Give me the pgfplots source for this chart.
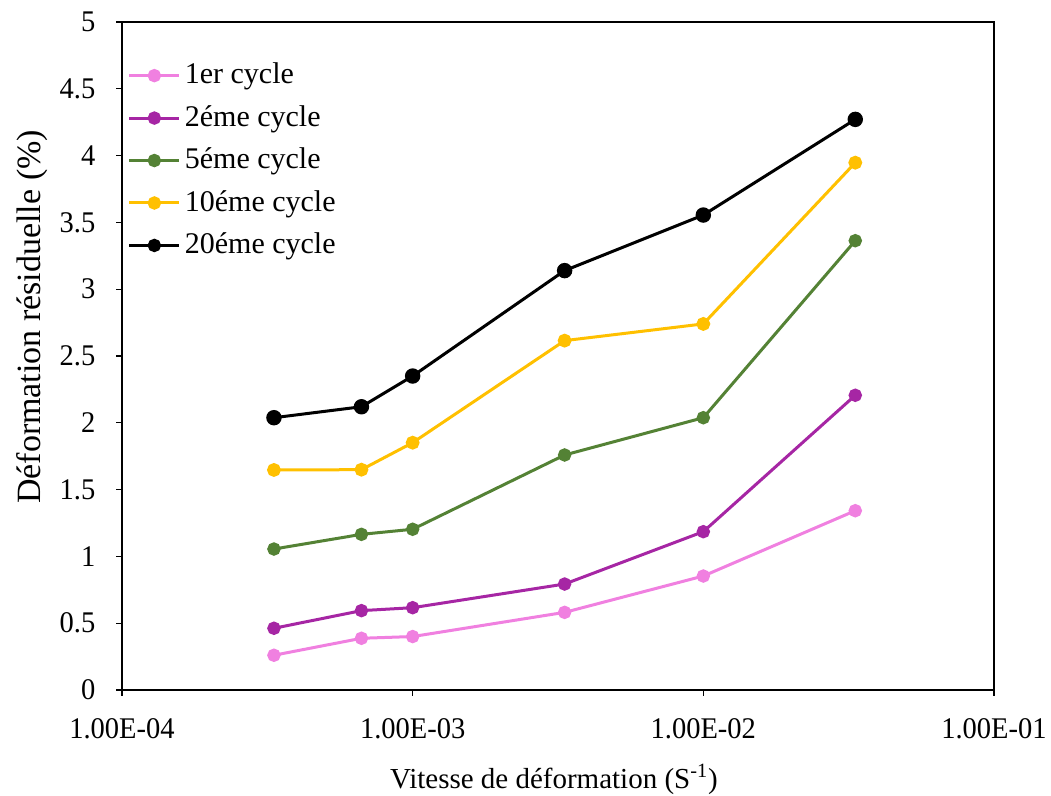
\documentclass[border=0pt]{standalone}
\usepackage{fontspec}
\setmainfont{Liberation Serif}
\usepackage{pgfplots}
\pgfplotsset{compat=1.18}
\definecolor{cpink}{RGB}{240,128,224}
\definecolor{cpurple}{RGB}{166,38,164}
\definecolor{cgreen}{RGB}{84,130,53}
\definecolor{cyellow}{RGB}{255,192,0}
\begin{document}
\fontsize{14}{17}\selectfont
\begin{tikzpicture}
\path[use as bounding box] (-61pt,-53pt) rectangle (464.5pt,345pt);
\begin{axis}[
  at={(0,0)}, anchor=south west,
  scale only axis,
  width=436pt, height=334pt,
  xmode=log,
  xmin=1e-4, xmax=1e-1,
  ymin=0, ymax=5,
  ytick={0,0.5,...,5},
  xtick={1e-4,1e-3,1e-2,1e-1},
  xticklabels={1.00E-04,1.00E-03,1.00E-02,1.00E-01},
  xminorticks=false,
  log ticks with fixed point=false,
  tick align=outside,
  xtick pos=bottom, ytick pos=left,
  major tick length=3pt,
  axis line style={line width=0.9pt},
  tick style={black, line width=0.6pt},
  /pgf/number format/assume math mode=true,
  ticklabel style={font=\fontsize{15}{18}\selectfont, xscale=0.95},
  xticklabel style={yshift=-6.5pt},
  yticklabel style={xshift=-6pt},
  xlabel={Vitesse de déformation (S\textsuperscript{-1})},
  ylabel={Déformation résiduelle (\%)},
  xlabel style={font=\fontsize{14.5}{17}\selectfont, yshift=-3pt, xshift=-2pt},
  ylabel style={font=\fontsize{17}{20}\selectfont, yshift=-3.5pt, xshift=19.5pt},
  legend style={draw=none, fill=none, at={(0.004,0.948)}, anchor=north west,
    font=\fontsize{15}{18}\selectfont, row sep=4.7pt, inner sep=1pt},
  legend cell align=left,
  legend image code/.code={
    \draw[#1, mark=none] (0pt,0pt) -- (25pt,0pt);
    \fill[#1] (12.5pt,0pt) circle (2.6pt);
  },
]
\addplot[cpink, line width=1.5pt, mark=*, mark size=2.6pt, mark options={solid}] coordinates {
 (3.333e-4,0.26) (6.667e-4,0.387) (1e-3,0.40) (3.333e-3,0.581) (1e-2,0.853) (3.333e-2,1.342)};
\addlegendentry{1er cycle}
\addplot[cpurple, line width=1.5pt, mark=*, mark size=2.6pt] coordinates {
 (3.333e-4,0.462) (6.667e-4,0.594) (1e-3,0.616) (3.333e-3,0.793) (1e-2,1.185) (3.333e-2,2.206)};
\addlegendentry{2éme cycle}
\addplot[cgreen, line width=1.5pt, mark=*, mark size=2.6pt] coordinates {
 (3.333e-4,1.055) (6.667e-4,1.165) (1e-3,1.203) (3.333e-3,1.759) (1e-2,2.038) (3.333e-2,3.363)};
\addlegendentry{5éme cycle}
\addplot[cyellow, line width=1.5pt, mark=*, mark size=2.7pt] coordinates {
 (3.333e-4,1.647) (6.667e-4,1.649) (1e-3,1.851) (3.333e-3,2.615) (1e-2,2.740) (3.333e-2,3.947)};
\addlegendentry{10éme cycle}
\addplot[black, line width=1.5pt, mark=*, mark size=3.1pt] coordinates {
 (3.333e-4,2.038) (6.667e-4,2.12) (1e-3,2.35) (3.333e-3,3.139) (1e-2,3.555) (3.333e-2,4.271)};
\addlegendentry{20éme cycle}
\end{axis}
\end{tikzpicture}
\end{document}
